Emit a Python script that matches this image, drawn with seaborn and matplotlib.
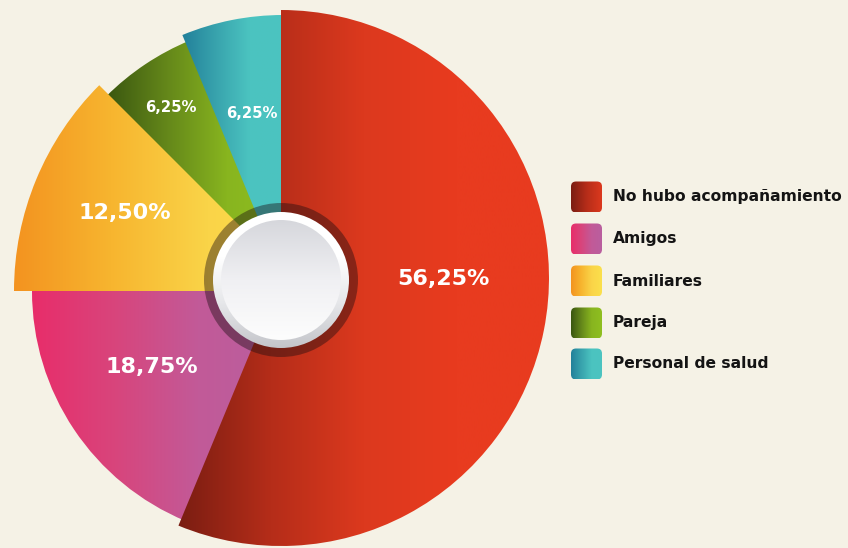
import numpy as np
import matplotlib
matplotlib.use("Agg")
import matplotlib.pyplot as plt
from matplotlib.patches import Wedge, Circle, FancyBboxPatch
import seaborn as sns

# ---- data -------------------------------------------------------------
categories = ["No hubo acompañamiento", "Amigos", "Familiares", "Pareja", "Personal de salud"]
shares = [56.25, 18.75, 12.50, 6.25, 6.25]

# gradient stops (left -> right) for each category
grad_colors = [
    ["#7a1d12", "#b52d19", "#dc391e", "#e83b1f", "#e83b1f"],
    ["#e82d6a", "#d8457c", "#c25a98", "#b95f9f"],
    ["#f39320", "#f7b52f", "#fad448", "#fbe04c"],
    ["#3a5610", "#64871a", "#88b51f", "#8fbf20"],
    ["#22809a", "#38a3ad", "#4bc3c0", "#4cc4c0"],
]

# ---- styling / layout (pixel space) ----------------------------------
W, H = 848, 548
BG = "#f5f2e6"
# per-slice centre (image px) and radius
slice_geom = [
    ((281, 278), 268),
    ((281, 291), 249),
    ((305, 291), 291),
    ((288, 278), 257),
    ((283, 278), 263),
]
slice_z = [5, 4, 4.5, 3, 3.5]
label_pos = [(443, 279), (152, 367), (125, 213), (171, 107), (252, 113)]
label_size = [16, 16, 16, 10.7, 10.7]

sns.set_theme(style="white")
plt.rcParams["font.family"] = ["DejaVu Sans"]


def py(y):
    return H - y


fig = plt.figure(figsize=(W / 100, H / 100), dpi=100, facecolor=BG)
ax = fig.add_axes([0, 0, 1, 1])
ax.set_facecolor(BG)

grad = np.linspace(0, 1, 256).reshape(1, -1)


def gradient_fill(patch, stops, z, vertical=False):
    ax.add_patch(patch)
    ext = patch.get_path().get_extents(patch.get_patch_transform())
    cmap = sns.blend_palette(stops, n_colors=256, as_cmap=True)
    arr = grad.T if vertical else grad
    im = ax.imshow(arr, cmap=cmap, extent=[ext.x0, ext.x1, ext.y0, ext.y1],
                   origin="lower", aspect="auto", interpolation="bilinear", zorder=z)
    im.set_clip_path(patch)
    return im


# ---- slices: start at 12 o'clock, run clockwise ----------------------
cum = 0.0
for i, share in enumerate(shares):
    a_start = 90 - 3.6 * cum
    a_end = 90 - 3.6 * (cum + share)
    cum += share
    (cx, cy), r = slice_geom[i]
    t1, t2 = a_end % 360, a_start % 360
    if t2 <= t1:
        t2 += 360
    w = Wedge((cx, py(cy)), r, t1, t2, facecolor="none", edgecolor="none")
    gradient_fill(w, grad_colors[i], slice_z[i])
    label = f"{share:.2f}%".replace(".", ",")
    lx, ly = label_pos[i]
    ax.text(lx, py(ly), label, color="white", fontsize=label_size[i],
            fontweight="bold", ha="center", va="center", zorder=10)

# ---- centre button ----------------------------------------------------
ccx, ccy = 281, 280
ring = Wedge((ccx, py(ccy)), 77, 0, 360, width=11, facecolor="#1a0c10",
             alpha=0.42, edgecolor="none", zorder=6)
ax.add_patch(ring)
gradient_fill(Circle((ccx, py(ccy)), 68, facecolor="none", edgecolor="none"),
              ["#c4c5ca", "#e6e7ea", "#ffffff", "#ffffff"], 7, vertical=True)
gradient_fill(Circle((ccx, py(ccy)), 60, facecolor="none", edgecolor="none"),
              ["#fdfdfd", "#f0f0f3", "#d6d7dc"], 8, vertical=True)

# ---- legend -----------------------------------------------------------
leg_y = [197, 239, 281, 323, 364]
for i, name in enumerate(categories):
    y = leg_y[i]
    box = FancyBboxPatch((571, py(y) - 15.5), 31, 31,
                         boxstyle="round,pad=0,rounding_size=5",
                         facecolor="none", edgecolor="none")
    stops = grad_colors[i][:3] if i == 0 else grad_colors[i]
    gradient_fill(box, stops, 5)
    ax.text(613, py(y), name, color="#141414", fontsize=11.2, fontweight="bold",
            ha="left", va="center", zorder=10)

ax.set_xlim(0, W)
ax.set_ylim(0, H)
ax.axis("off")
fig.savefig("out.png", dpi=100, facecolor=BG)
